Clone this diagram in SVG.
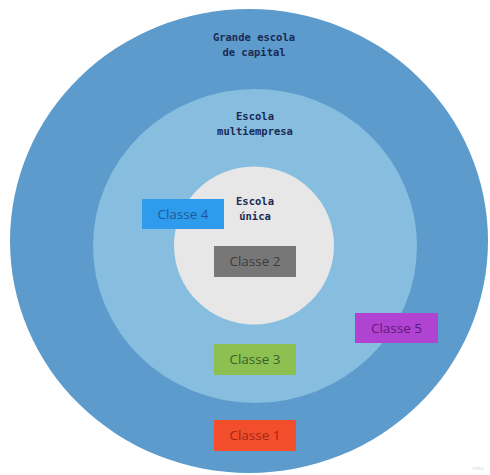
<svg xmlns="http://www.w3.org/2000/svg" width="490" height="475" viewBox="0 0 490 475">
<style>
.lbl{font-family:"DejaVu Sans Mono","Liberation Mono",monospace;font-weight:bold;font-size:10.5px;fill:#1b2a55;text-anchor:middle}
.box{font-family:"Open Sans","Noto Sans",sans-serif;font-size:13.5px;text-anchor:middle}
</style>
<rect width="490" height="475" fill="#ffffff"/>
<g id="grande-escola">
<ellipse cx="249" cy="241" rx="239" ry="232" fill="#5c9bcb"/>
<text class="lbl" x="254" y="41">Grande escola</text>
<text class="lbl" x="254" y="56">de capital</text>
</g>
<g id="escola-multiempresa">
<ellipse cx="255" cy="246" rx="162" ry="157" fill="#87bddf"/>
<text class="lbl" x="255" y="120">Escola</text>
<text class="lbl" x="255" y="135">multiempresa</text>
</g>
<g id="escola-unica">
<ellipse cx="254" cy="245.5" rx="80" ry="79" fill="#e7e7e7"/>
<text class="lbl" x="255" y="205">Escola</text>
<text class="lbl" x="255" y="220">única</text>
</g>
<g id="classe4">
<rect x="142" y="199" width="82" height="30" fill="#2e9bec"/>
<text class="box" x="183" y="218.5" fill="#1a5c99">Classe 4</text>
</g>
<g id="classe2">
<rect x="214" y="246" width="82" height="31" fill="#777777"/>
<text class="box" x="255" y="266" fill="#3c3c3c">Classe 2</text>
</g>
<g id="classe3">
<rect x="214" y="344" width="82" height="31" fill="#8cc152"/>
<text class="box" x="255" y="364" fill="#3a5e2a">Classe 3</text>
</g>
<g id="classe5">
<rect x="355" y="313" width="83" height="30" fill="#b043d1"/>
<text class="box" x="396.5" y="332.5" fill="#5e1a78">Classe 5</text>
</g>
<g id="classe1">
<rect x="214" y="420" width="82" height="31" fill="#f24e2b"/>
<text class="box" x="255" y="440" fill="#a02818">Classe 1</text>
</g>
<g id="connectors"></g>
<text x="484" y="470" font-family="Liberation Sans, sans-serif" font-size="6" fill="#d8d8d8" text-anchor="end">miro</text>
</svg>
